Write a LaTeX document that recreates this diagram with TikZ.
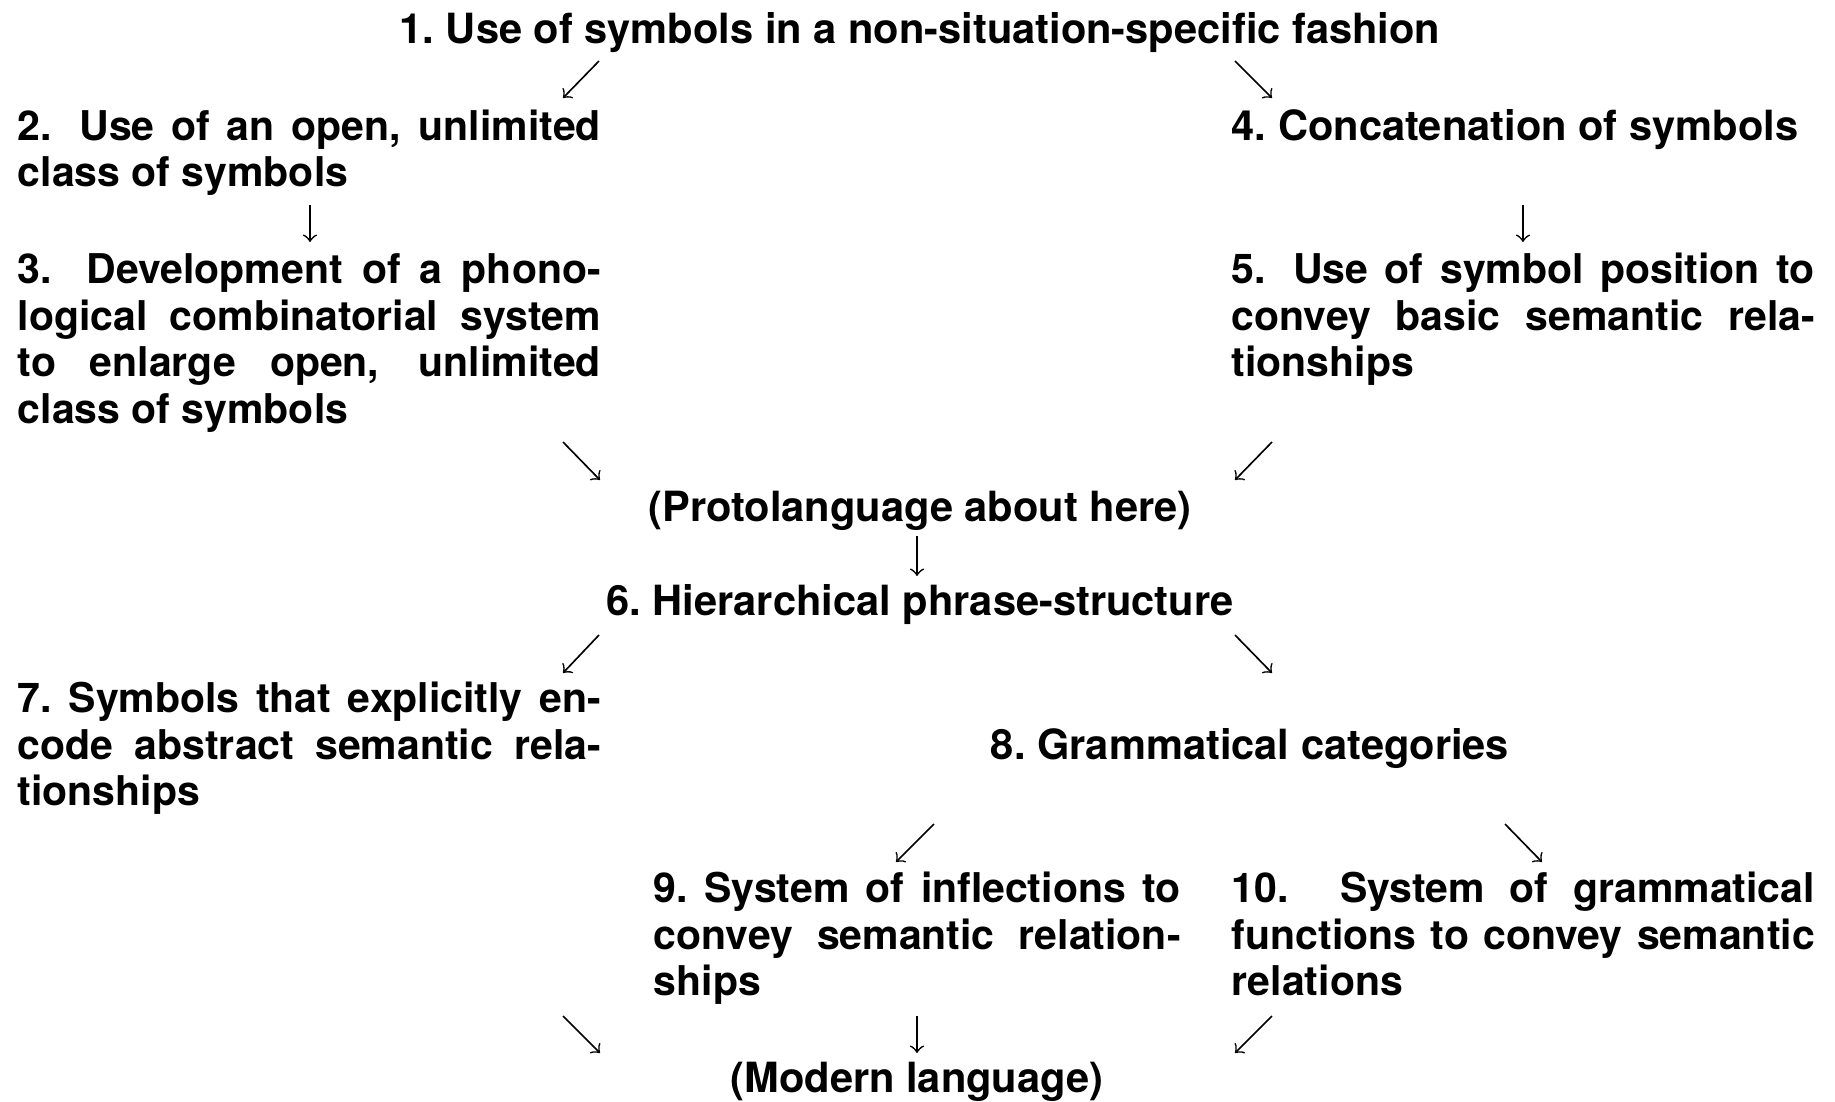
\documentclass[tikz,border=0pt]{standalone}
\usepackage{fontspec}
\setmainfont{TeX Gyre Heros}[Ligatures=NoCommon]
\usepackage{tikz}
\tolerance=9999
\hbadness=10000

\begin{document}
\begin{tikzpicture}[x=0.2439pt,y=-0.2439pt,font={\fontsize{10}{11.46}\selectfont\bfseries\fontdimen7\font=0pt}]
  \useasboundingbox (0,0) rectangle (1835,1101);
    \tikzstyle{stage}=[anchor=base west,inner sep=0pt,text width=142.2pt,align=justify]
    \tikzstyle{midline}=[anchor=base,inner sep=0pt,font={\fontsize{10.15}{11.46}\selectfont\bfseries\fontdimen7\font=0pt}]
    \tikzstyle{flow}=[->,thin]

  \node (s1) at (920,43) [midline] {1.\ Use of symbols in a non-situation-specific fashion};
  \node (s2) at (17,140) [stage] {2.  Use of an open, unlimited\linebreak class of symbols};
  \node (s4) at (1231,140) [stage,font={\fontsize{10.15}{11.46}\selectfont\bfseries}] {4.\ Concatenation of symbols};
  \node (s3) at (17,283) [stage] {3.  Development of a phono-\linebreak logical combinatorial system\linebreak to enlarge open, unlimited\linebreak class of symbols};
  \node (s5) at (1231,283) [stage] {5.  Use of symbol position to\linebreak convey basic semantic rela-\linebreak tionships};
  \node (proto) at (920,521) [midline] {(Protolanguage about here)};
  \node (s6) at (920,615) [midline] {6.\ Hierarchical phrase-structure};
  \node (s7) at (17,712) [stage] {7.\ Symbols that explicitly en-\linebreak code abstract semantic rela-\linebreak tionships};
  \node (s8) at (1250,759) [midline] {8.\ Grammatical categories};
  \node (s9) at (653,902) [stage,text width=128.5pt] {9.\ System of inflections to\linebreak convey semantic relation-\linebreak ships};
  \node (s10) at (1231,902) [stage] {10.  System of grammatical\linebreak functions to convey semantic\linebreak relations};
  \node (modern) at (917,1092) [midline] {(Modern language)};

  \coordinate (a1) at (599,61);    \coordinate (b1) at (563,98);
  \coordinate (a2) at (1235,61);   \coordinate (b2) at (1272,98);
  \coordinate (a3) at (310,205);   \coordinate (b3) at (310,242);
  \coordinate (a4) at (1523,205);  \coordinate (b4) at (1523,242);
  \coordinate (a5) at (563,442);   \coordinate (b5) at (600,480);
  \coordinate (a6) at (1272,442);  \coordinate (b6) at (1235,480);
  \coordinate (a7) at (917,536);   \coordinate (b7) at (917,576);
  \coordinate (a8) at (599,635);   \coordinate (b8) at (563,673);
  \coordinate (a9) at (1235,635);  \coordinate (b9) at (1272,673);
  \coordinate (a10) at (934,824);  \coordinate (b10) at (896,862);
  \coordinate (a11) at (1505,824); \coordinate (b11) at (1542,862);
  \coordinate (a12) at (563,1016); \coordinate (b12) at (600,1053);
  \coordinate (a13) at (917,1016); \coordinate (b13) at (917,1053);
  \coordinate (a14) at (1272,1016);\coordinate (b14) at (1235,1053);

\path (a1) edge [flow] (b1);
\path (a2) edge [flow] (b2);
\path (a3) edge [flow] (b3);
\path (a4) edge [flow] (b4);
\path (a5) edge [flow] (b5);
\path (a6) edge [flow] (b6);
\path (a7) edge [flow] (b7);
\path (a8) edge [flow] (b8);
\path (a9) edge [flow] (b9);
\path (a10) edge [flow] (b10);
\path (a11) edge [flow] (b11);
\path (a12) edge [flow] (b12);
\path (a13) edge [flow] (b13);
\path (a14) edge [flow] (b14);
    \end{tikzpicture}
\end{document}
